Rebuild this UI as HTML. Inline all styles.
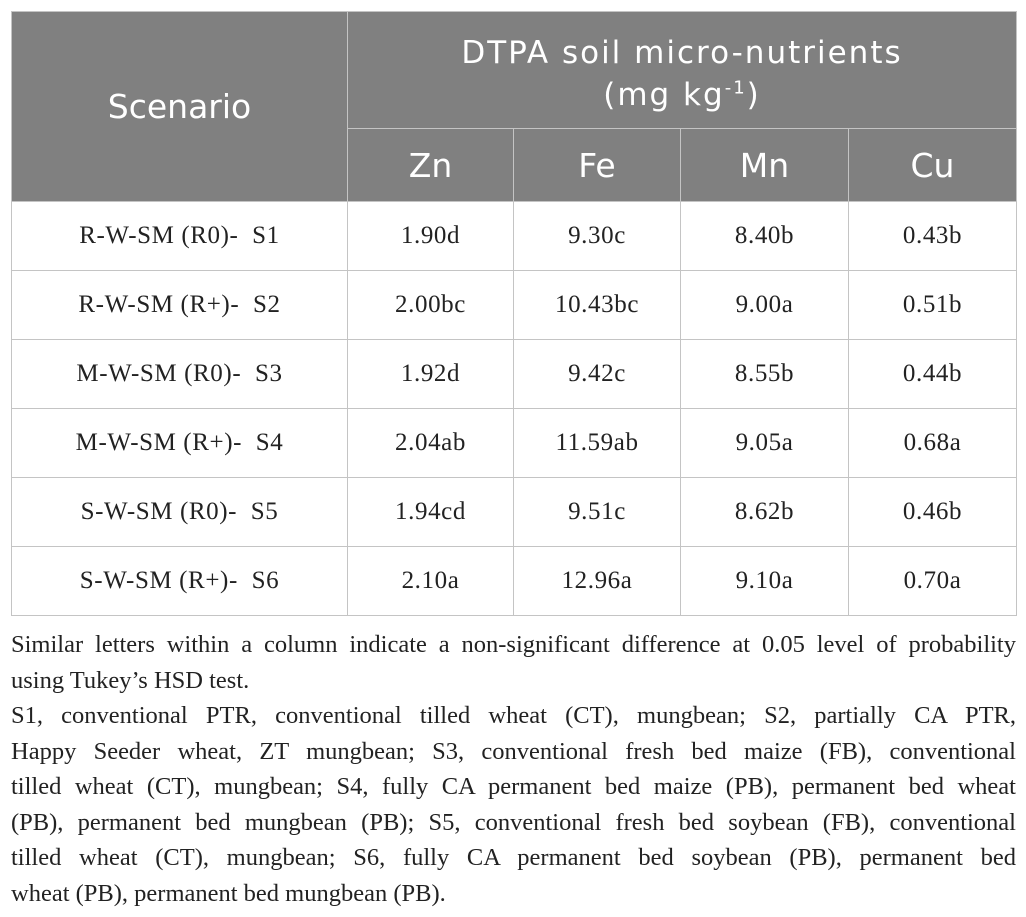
<!DOCTYPE html>
<html><head><meta charset="utf-8"><style>
body{margin:0;background:#fff;width:1026px;height:917px;position:relative;overflow:hidden}
table{position:absolute;left:11px;top:11px;border-collapse:collapse;table-layout:fixed;width:1005px}
td,th{border:1px solid #c4c4c4;text-align:center;padding:0}
th{background:#808080;color:#fff;font-family:"DejaVu Sans","Liberation Sans",sans-serif;font-weight:normal;font-size:33px}
td{font-family:"Liberation Serif",serif;font-size:25px;letter-spacing:0.6px;color:#222;height:68px}
.notes{position:absolute;left:11px;top:627px;width:1005px;font-family:"Liberation Serif",serif;font-size:24.5px;color:#222}
.notes div{height:35.5px;line-height:35.5px;white-space:nowrap;text-align:justify;text-align-last:justify}
.notes div.l{text-align-last:left}
</style></head><body>
<table>
<colgroup><col style="width:336px"><col style="width:166px"><col style="width:167px"><col style="width:168px"><col style="width:168px"></colgroup>
<tr style="height:117px"><th rowspan="2">Scenario</th><th colspan="4" style="font-size:31px;line-height:42px;letter-spacing:2px;padding-top:8px;box-sizing:border-box">DTPA soil micro-nutrients<br>(mg kg<sup style="font-size:18px;line-height:0">-1</sup>)</th></tr>
<tr style="height:73px"><th>Zn</th><th>Fe</th><th>Mn</th><th>Cu</th></tr>
<tr><td>R-W-SM (R0)-&nbsp; S1</td><td>1.90d</td><td>9.30c</td><td>8.40b</td><td>0.43b</td></tr>
<tr><td>R-W-SM (R+)-&nbsp; S2</td><td>2.00bc</td><td>10.43bc</td><td>9.00a</td><td>0.51b</td></tr>
<tr><td>M-W-SM (R0)-&nbsp; S3</td><td>1.92d</td><td>9.42c</td><td>8.55b</td><td>0.44b</td></tr>
<tr><td>M-W-SM (R+)-&nbsp; S4</td><td>2.04ab</td><td>11.59ab</td><td>9.05a</td><td>0.68a</td></tr>
<tr><td>S-W-SM (R0)-&nbsp; S5</td><td>1.94cd</td><td>9.51c</td><td>8.62b</td><td>0.46b</td></tr>
<tr><td>S-W-SM (R+)-&nbsp; S6</td><td>2.10a</td><td>12.96a</td><td>9.10a</td><td>0.70a</td></tr>
</table>
<div class="notes">
<div>Similar letters within a column indicate a non-significant difference at 0.05 level of probability</div>
<div class="l">using Tukey’s HSD test.</div>
<div>S1, conventional PTR, conventional tilled wheat (CT), mungbean; S2, partially CA PTR,</div>
<div>Happy Seeder wheat, ZT mungbean; S3, conventional fresh bed maize (FB), conventional</div>
<div>tilled wheat (CT), mungbean; S4, fully CA permanent bed maize (PB), permanent bed wheat</div>
<div>(PB), permanent bed mungbean (PB); S5, conventional fresh bed soybean (FB), conventional</div>
<div>tilled wheat (CT), mungbean; S6, fully CA permanent bed soybean (PB), permanent bed</div>
<div class="l">wheat (PB), permanent bed mungbean (PB).</div>
</div>
</body></html>
